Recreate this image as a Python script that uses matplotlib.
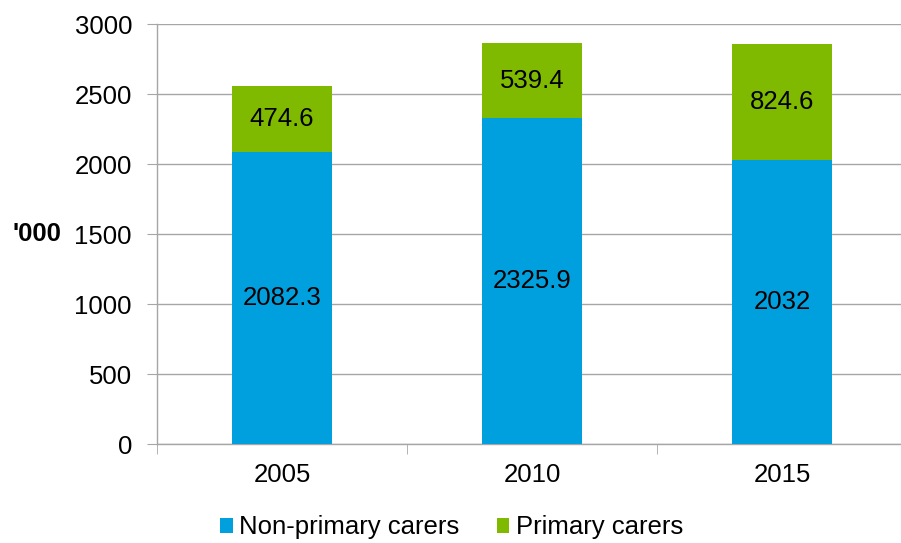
"""
Carers by year: non-primary vs primary (stacked bars)
"""
import numpy as np
import matplotlib
matplotlib.use('Agg')
import matplotlib.pyplot as plt
from matplotlib.patches import Patch

plt.rcParams['font.family'] = ['Liberation Sans', 'DejaVu Sans']

# Data
years = ['2005', '2010', '2015']
non_primary = [2082.3, 2325.9, 2032]
primary = [474.6, 539.4, 824.6]
non_primary_labels = ['2082.3', '2325.9', '2032']
primary_labels = ['474.6', '539.4', '824.6']

blue = '#00A0DE'
green = '#7FB900'
grey = '#A6A6A6'
fs = 18.5

fig = plt.figure(figsize=(9.01, 5.43), dpi=100)
W, H = 901, 543
ax = fig.add_axes([157 / W, (H - 444) / H, (907 - 157) / W, (444 - 24) / H])

x = np.arange(len(years))
ax.bar(x, non_primary, width=0.4, color=blue, zorder=3)
ax.bar(x, primary, width=0.4, bottom=non_primary, color=green, zorder=3)

# Segment labels
for i in range(len(years)):
    ax.text(x[i], non_primary[i] / 2, non_primary_labels[i], ha='center',
            va='center', fontsize=fs, color='black', zorder=4)
    ax.text(x[i], non_primary[i] + primary[i] / 2, primary_labels[i],
            ha='center', va='center', fontsize=fs, color='black', zorder=4)

ax.set_xlim(-0.5, 2.5)
ax.set_ylim(0, 3000)
ax.set_yticks(np.arange(0, 3001, 500))
ax.tick_params(axis='y', labelsize=fs, length=7, color=grey, pad=11)
ax.yaxis.grid(True, color=grey, linewidth=1, zorder=0)

ax.set_xticks(x)
ax.set_xticklabels(years)
ax.tick_params(axis='x', which='major', length=0, labelsize=fs, pad=14)
ax.set_xticks([-0.5, 0.5, 1.5, 2.5], minor=True)
ax.tick_params(axis='x', which='minor', length=7, color=grey)

for side in ['top', 'right']:
    ax.spines[side].set_visible(False)
for side in ['left', 'bottom']:
    ax.spines[side].set_color(grey)
    ax.spines[side].set_linewidth(1)

fig.text(13 / W, 1 - 234 / H, "'000", ha='left', va='center',
         fontsize=fs, fontweight='bold')

handles = [Patch(facecolor=blue, label='Non-primary carers'),
           Patch(facecolor=green, label='Primary carers')]
fig.legend(handles=handles, loc='lower center', bbox_to_anchor=(0.501, -0.036),
           ncol=2, frameon=False, fontsize=fs, handlelength=0.5,
           handleheight=0.5, handletextpad=0.25, columnspacing=1.45)

plt.savefig('out.png', dpi=100)
plt.close()
